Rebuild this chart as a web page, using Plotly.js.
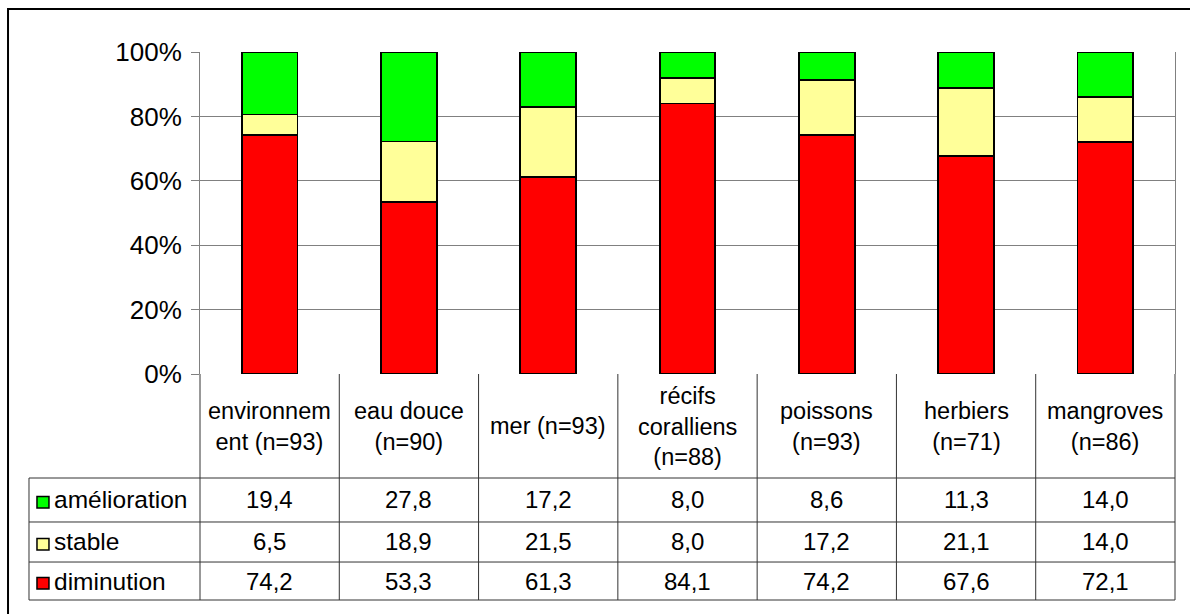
<!DOCTYPE html>
<html>
<head>
<meta charset="utf-8">
<script src="https://cdn.plot.ly/plotly-3.0.1.min.js"></script>
<style>
  body { margin: 0; background: #fff; }
  #plot { width: 1190px; height: 614px; }
</style>
</head>
<body>
<div id="plot"></div>
<script>
// Données
const categories = ["environnem<br>ent (n=93)", "eau douce<br>(n=90)", "mer (n=93)", "récifs<br>coralliens<br>(n=88)", "poissons<br>(n=93)", "herbiers<br>(n=71)", "mangroves<br>(n=86)"];
const series_names = ["amélioration", "stable", "diminution"];
const amelioration = [19.4, 27.8, 17.2, 8.0, 8.6, 11.3, 14.0];
const stable = [6.5, 18.9, 21.5, 8.0, 17.2, 21.1, 14.0];
const diminution = [74.2, 53.3, 61.3, 84.1, 74.2, 67.6, 72.1];
const y_ticks = [0, 20, 40, 60, 80, 100];

const couleurs = ["#00FF00", "#FFFF99", "#FF0000"];
const police = "Liberation Sans, Arial, sans-serif";

// lignes du tableau (en coordonnées paper)
const row_y = [-0.3913, -0.5217, -0.6429];   // centres des lignes
const row_lines = [-0.3230, -0.4596, -0.5839, -0.7019];
const left_table = -0.1754;

function fmt(v) {
  return v.toFixed(1).replace(".", ",");
}

function plot() {
  var valeurs = [amelioration, stable, diminution];
  var data = [];
  // ordre d'empilement : diminution en bas
  for (let s = 2; s >= 0; s--) {
    data.push({
      x: categories,
      y: valeurs[s],
      name: series_names[s],
      type: "bar",
      marker: { color: couleurs[s], line: { color: "#000", width: 1.8 } },
      hoverinfo: "none"
    });
  }

  var annotations = [];
  var shapes = [];

  // étiquettes des catégories
  categories.forEach(function (c, i) {
    annotations.push({
      x: i, xref: "x", y: -0.1615, yref: "paper",
      text: c, showarrow: false, yanchor: "middle",
      font: { family: police, size: 23.5, color: "#000" }
    });
  });

  // valeurs + légende
  valeurs.forEach(function (serie, s) {
    serie.forEach(function (v, i) {
      annotations.push({
        x: i, xref: "x", y: row_y[s], yref: "paper",
        text: fmt(v), showarrow: false, yanchor: "middle",
        font: { family: police, size: 24, color: "#000" }
      });
    });
    annotations.push({
      x: -0.1515, xref: "paper", y: row_y[s], yref: "paper",
      text: series_names[s], showarrow: false, xanchor: "left", yanchor: "middle",
      font: { family: police, size: 24.5, color: "#000" }
    });
    shapes.push({
      type: "rect", xref: "paper", yref: "paper",
      x0: -0.1672, x1: -0.1549, y0: row_y[s] - 0.025, y1: row_y[s] + 0.011,
      fillcolor: couleurs[s], line: { color: "#000", width: 1.5 }
    });
  });

  // grille du tableau
  row_lines.forEach(function (y) {
    shapes.push({ type: "line", xref: "paper", yref: "paper", x0: left_table, x1: 1, y0: y, y1: y, line: { color: "#333", width: 1 } });
  });
  shapes.push({ type: "line", xref: "paper", yref: "paper", x0: left_table, x1: left_table, y0: row_lines[0], y1: row_lines[3], line: { color: "#333", width: 1 } });
  for (let k = 0; k <= categories.length; k++) {
    var xk = k / categories.length;
    shapes.push({ type: "line", xref: "paper", yref: "paper", x0: xk, x1: xk, y0: 0, y1: row_lines[3], line: { color: "#333", width: 1 } });
  }

  // cadre extérieur
  shapes.push({
    type: "rect", xref: "paper", yref: "paper",
    x0: -0.1969, x1: 1.03, y0: -0.8, y1: 1.1335,
    line: { color: "#000", width: 2 }
  });

  const layout = {
    width: 1190,
    height: 614,
    margin: { l: 200, r: 15, t: 52, b: 240, pad: 0 },
    paper_bgcolor: "#fff",
    plot_bgcolor: "#fff",
    barmode: "stack",
    barnorm: "percent",
    bargap: 0.6,
    showlegend: false,
    xaxis: {
      type: "category",
      range: [-0.5, 6.5],
      showticklabels: false,
      showgrid: false,
      zeroline: false,
      ticks: ""
    },
    yaxis: {
      range: [0, 100],
      tickvals: y_ticks,
      ticktext: y_ticks.map(function (t) { return t + "%"; }),
      ticks: "outside",
      ticklen: 8,
      tickcolor: "#808080",
      ticklabelstandoff: 4,
      showline: true,
      mirror: true,
      linecolor: "#808080",
      linewidth: 1,
      gridcolor: "#808080",
      gridwidth: 1,
      zeroline: false,
      tickfont: { family: police, size: 26, color: "#000" }
    },
    annotations: annotations,
    shapes: shapes
  };

  Plotly.newPlot("plot", data, layout, { staticPlot: true });
}

plot();
</script>
</body>
</html>
